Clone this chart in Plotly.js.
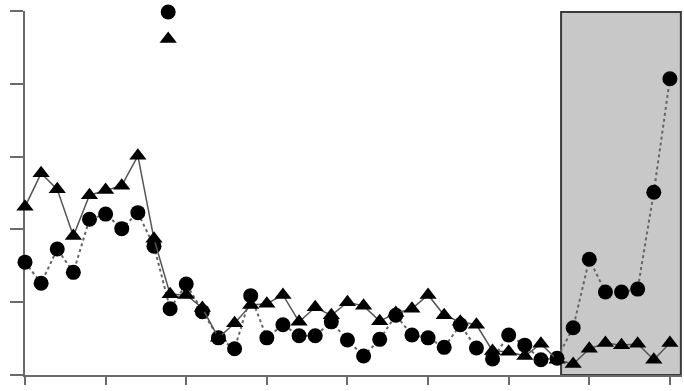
<!DOCTYPE html>
<html>
<head>
<meta charset="utf-8">
<script src="https://cdn.plot.ly/plotly-3.0.1.min.js"></script>
<style>html,body{margin:0;padding:0;background:#fff;}#chart{width:684px;height:391px;}</style>
</head>
<body>
<div id="chart"></div>
<script>
var xIndex = [0,1,2,3,4,5,6,7,8,9,10,11,12,13,14,15,16,17,18,19,20,21,22,23,24,25,26,27,28,29,30,31,32,33,34,35,36,37,38,39,40];
var triangleSeries = [2.31,2.77,2.55,1.91,2.47,2.54,2.60,3.01,1.87,1.11,1.10,0.92,0.51,0.71,0.96,0.98,1.10,0.73,0.93,0.82,1.00,0.95,0.74,0.85,0.91,1.10,0.82,0.73,0.69,0.33,0.32,0.26,0.43,0.21,0.15,0.36,0.44,0.41,0.43,0.21,0.44];
var circleSeries = [1.55,1.26,1.73,1.41,2.14,2.21,2.01,2.23,1.77,0.91,1.25,0.87,0.51,0.36,1.09,0.51,0.69,0.54,0.54,0.73,0.48,0.26,0.49,0.82,0.55,0.51,0.38,0.69,0.37,0.22,0.55,0.41,0.21,0.23,0.65,1.59,1.14,1.14,1.18,2.51,4.07];
var xTicks = [0,5,10,15,20,25,30,35,40];
var yTicks = [0,1,2,3,4,5];
var shadedStart = 33.25, shadedEnd = 40.68;

var traces = [
  {x: xIndex, y: circleSeries, mode: 'lines+markers', showlegend: false, cliponaxis: false,
   line: {color: '#666', width: 2, dash: 'dot'},
   marker: {symbol: 'circle', size: 15, color: '#000'}},
  {x: xIndex, y: triangleSeries, mode: 'lines+markers', showlegend: false, cliponaxis: false,
   line: {color: '#555', width: 1.5},
   marker: {symbol: 'triangle-up', size: 15, color: '#000'}},
  {x: [null], y: [null], mode: 'markers', name: ' ', showlegend: true,
   marker: {symbol: 'circle', size: 15, color: '#000'}},
  {x: [null], y: [null], mode: 'markers', name: ' ', showlegend: true,
   marker: {symbol: 'triangle-up', size: 15, color: '#000'}}
];

var layout = {
  width: 684, height: 391,
  margin: {l: 25, r: 2, t: 11, b: 16, pad: 0, autoexpand: false},
  paper_bgcolor: '#fff', plot_bgcolor: '#fff',
  showlegend: true,
  legend: {x: 0.1875, xanchor: 'left', y: 1.048, yanchor: 'top', bgcolor: 'rgba(0,0,0,0)',
           font: {size: 18.5, family: 'DejaVu Sans'}, traceorder: 'normal'},
  xaxis: {range: [0, 40.75], tickvals: xTicks, showticklabels: false, ticks: 'outside', ticklen: 8,
          tickwidth: 2, tickcolor: '#6a6a6a', showline: true, linecolor: '#6a6a6a', linewidth: 2,
          showgrid: false, zeroline: false, layer: 'below traces', fixedrange: true},
  yaxis: {range: [0, 5], tickvals: yTicks, showticklabels: false, ticks: 'outside', ticklen: 13,
          tickwidth: 2, tickcolor: '#6a6a6a', showline: true, linecolor: '#6a6a6a', linewidth: 2,
          showgrid: false, zeroline: false, layer: 'below traces', fixedrange: true},
  shapes: [{type: 'rect', xref: 'x', yref: 'y', x0: shadedStart, x1: shadedEnd, y0: 0, y1: 4.985,
            fillcolor: '#c8c8c8', line: {color: '#3a3a3a', width: 2}, layer: 'below'}]
};

Plotly.newPlot('chart', traces, layout, {displayModeBar: false, staticPlot: true});
</script>
</body>
</html>
